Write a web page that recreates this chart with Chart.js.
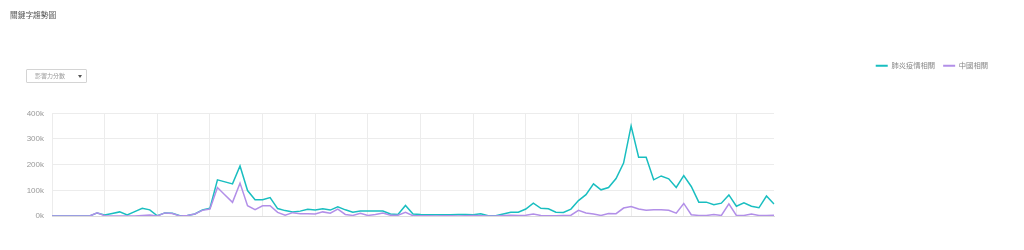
<!DOCTYPE html>
<html>
<head>
<meta charset="utf-8">
<script src="https://cdn.jsdelivr.net/npm/chart.js@4/dist/chart.umd.min.js"></script>
<style>
  body { margin: 0; background: #fff; }
  .wrap { position: relative; width: 1024px; height: 250px; }
  .title {
    position: absolute; left: 10px; top: 9px;
    font-family: "Noto Sans CJK TC", sans-serif; font-size: 7.7px; color: #555;
  }
  .select {
    position: absolute; left: 26px; top: 69px; width: 59px; height: 12px;
    border: 1px solid #d4d4d4; border-radius: 1px;
    font-family: "Noto Sans CJK TC", sans-serif; font-size: 6px; line-height: 12px;
    color: #999; padding-left: 8px; box-sizing: content-box; width: 51px;
  }
  .select .caret {
    position: absolute; left: 51px; top: 5px; width: 0; height: 0;
    border-left: 2px solid transparent; border-right: 2px solid transparent;
    border-top: 3px solid #555;
  }
  canvas { position: absolute; left: 0; top: 0; }
</style>
</head>
<body>
<div class="wrap">
  <canvas id="trend" width="1024" height="250"></canvas>
  <div class="title">關鍵字趨勢圖</div>
  <div class="select">影響力分數<span class="caret"></span></div>
</div>
<script>
const seriesNames = ['肺炎疫情相關', '中國相關'];
const seriesColors = ['#19bec0', '#b28fe8'];

// values in thousands, one per day
const pneumonia = [
  0, 0, 0, 0, 0, 0, 12, 4, 10, 16,
  4, 17, 30, 24, 1, 12, 11, 1, 2, 8,
  24, 30, 141, 133, 125, 195, 99, 63, 63, 72,
  29, 21, 16, 19, 26, 23, 28, 23, 36, 24,
  15, 19, 19, 19, 19, 8, 6, 41, 8, 6,
  5, 5, 5, 5, 6, 6, 5, 9, 1, 1,
  8, 15, 15, 27, 50, 30, 28, 15, 14, 27,
  60, 83, 125, 102, 111, 146, 206, 351, 229, 229,
  141, 156, 145, 111, 157, 115, 54, 54, 44, 50,
  82, 38, 51, 38, 32, 78, 47
];
const china = [
  0, 0, 0, 0, 0, 0, 12, 1, 0, 0,
  0, 0, 2, 4, 0, 12, 10, 0, 2, 8,
  22, 27, 111, 82, 53, 128, 40, 25, 40, 40,
  14, 3, 13, 9, 9, 8, 16, 11, 27, 6,
  2, 11, 2, 6, 12, 3, 3, 14, 1, 1,
  1, 0, 1, 1, 0, 1, 2, 1, 0, 0,
  2, 3, 2, 3, 8, 2, 1, 1, 2, 3,
  22, 12, 8, 2, 10, 9, 31, 37, 27, 22,
  24, 24, 22, 11, 49, 5, 2, 2, 6, 2,
  47, 2, 2, 8, 2, 2, 3
];
const days = pneumonia.map((_, i) => 'D' + (i + 1));
const yTicks = [0, 100000, 200000, 300000, 400000];

const legendGap = {
  id: 'legendGap',
  beforeInit(chart) {
    const fit = chart.legend.fit;
    chart.legend.fit = function () {
      fit.bind(chart.legend)();
      this.height += 34;
    };
  }
};

new Chart(document.getElementById('trend').getContext('2d'), {
  type: 'line',
  data: {
    labels: days,
    datasets: [
      {
        label: seriesNames[0],
        data: pneumonia.map(v => v * 1000),
        borderColor: seriesColors[0],
        backgroundColor: seriesColors[0],
        borderWidth: 1.5,
        pointRadius: 0,
        tension: 0,
        order: 1
      },
      {
        label: seriesNames[1],
        data: china.map(v => v * 1000),
        borderColor: seriesColors[1],
        backgroundColor: seriesColors[1],
        borderWidth: 1.5,
        pointRadius: 0,
        tension: 0,
        order: 0
      }
    ]
  },
  options: {
    responsive: false,
    animation: false,
    devicePixelRatio: 1,
    layout: { padding: { top: 54, left: 27, right: 28, bottom: 34 } },
    plugins: {
      tooltip: { enabled: false },
      legend: {
        position: 'top',
        align: 'end',
        labels: {
          boxWidth: 12,
          boxHeight: 2,
          padding: 8,
          color: '#888',
          font: { family: '"Noto Sans CJK TC", sans-serif', size: 7.3 },
          sort: (a, b) => a.datasetIndex - b.datasetIndex,
          generateLabels: chart =>
            Chart.defaults.plugins.legend.labels.generateLabels(chart)
              .map(l => ({ ...l, lineWidth: 0, fillStyle: l.strokeStyle }))
        }
      }
    },
    scales: {
      x: {
        type: 'category',
        ticks: { display: false, autoSkip: false },
        grid: {
          drawTicks: false,
          color: ctx => ctx.index % 7 === 0 ? '#ececec' : 'transparent'
        },
        border: { color: '#dcdcdc' }
      },
      y: {
        min: 0,
        max: 400000,
        afterBuildTicks: scale => { scale.ticks = yTicks.map(v => ({ value: v })); },
        afterFit: scale => { scale.width = 25; },
        ticks: {
          padding: 8,
          color: '#999',
          font: { family: '"Liberation Sans", Arial, sans-serif', size: 8 },
          callback: v => (v / 1000) + 'k'
        },
        grid: { drawTicks: false, color: '#ececec' },
        border: { display: false }
      },
      spacer: {
        type: 'linear',
        axis: 'y',
        position: 'right',
        afterFit: scale => { scale.width = 222; },
        ticks: { display: false },
        grid: { display: false, drawTicks: false },
        border: { display: false }
      }
    }
  },
  plugins: [legendGap]
});
</script>
</body>
</html>
